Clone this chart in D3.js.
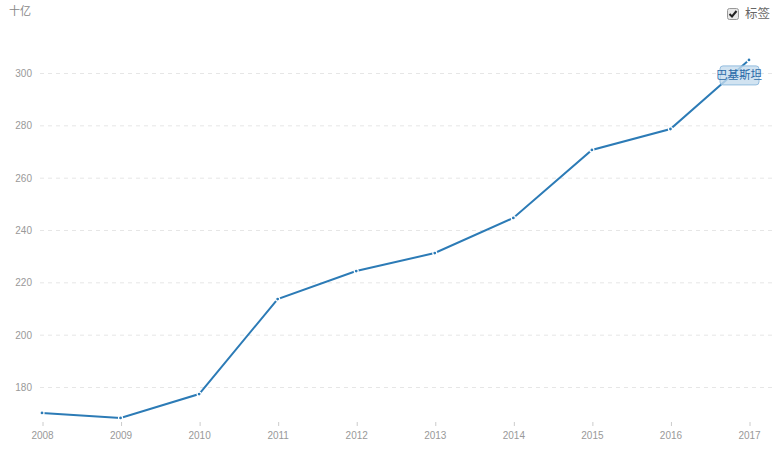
<!DOCTYPE html>
<html>
<head>
<meta charset="utf-8">
<script src="https://cdn.jsdelivr.net/npm/d3@7"></script>
<style>
  body { margin: 0; background: #fff; font-family: "Open Sans", "Noto Sans CJK SC", sans-serif; }
  .tick text { fill: #999; font-size: 10px; }
</style>
</head>
<body>
<svg width="784" height="462"></svg>
<script>
var years = ["2008", "2009", "2010", "2011", "2012", "2013", "2014", "2015", "2016", "2017"];
var values = [170.1, 168.2, 177.3, 213.6, 224.3, 231.2, 244.6, 270.6, 278.6, 305.0];
var yTicks = [180, 200, 220, 240, 260, 280, 300];
var seriesName = "巴基斯坦";
var unitLabel = "十亿";
var toggleLabel = "标签";

var svg = d3.select("svg");

var xScale = d3.scalePoint().domain(years).range([42, 749]);
// 300 -> 73px, 180 -> 387px
var yScale = d3.scaleLinear().domain([180, 300]).range([387, 73]);

// grid lines
svg.append("g")
  .selectAll("line")
  .data(yTicks)
  .enter()
  .append("line")
  .attr("x1", 40)
  .attr("x2", 772)
  .attr("y1", function (d) { return yScale(d) + 0.5; })
  .attr("y2", function (d) { return yScale(d) + 0.5; })
  .attr("stroke", "#e6e6e6")
  .attr("stroke-dasharray", "4,4");

// y axis labels
var yAxis = svg.append("g")
  .attr("transform", "translate(32,0)")
  .call(d3.axisLeft(yScale).tickValues(yTicks).tickSize(0).tickPadding(0));
yAxis.select(".domain").remove();
yAxis.selectAll("text").attr("dy", "0.35em");

// x axis
var xAxis = svg.append("g")
  .attr("transform", "translate(0,422)")
  .call(d3.axisBottom(xScale).tickSize(4).tickPadding(6));
xAxis.select(".domain").remove();
xAxis.selectAll("line").attr("stroke", "#ccc").attr("transform", "translate(0.5,0)");

// unit label
svg.append("text")
  .attr("x", 9)
  .attr("y", 15)
  .attr("fill", "#888")
  .attr("font-size", "11px")
  .text(unitLabel);

// line
var line = d3.line()
  .x(function (d, i) { return xScale(years[i]); })
  .y(function (d) { return yScale(d); });

svg.append("path")
  .datum(values)
  .attr("fill", "none")
  .attr("stroke", "#2c7bb6")
  .attr("stroke-width", 2)
  .attr("d", line);

svg.selectAll(".dot")
  .data(values)
  .enter()
  .append("circle")
  .attr("class", "dot")
  .attr("cx", function (d, i) { return xScale(years[i]); })
  .attr("cy", function (d) { return yScale(d); })
  .attr("r", 2)
  .attr("fill", "#2c7bb6")
  .attr("stroke", "#fff")
  .attr("stroke-width", 1.2);

// series label on last point
var lastX = xScale(years[years.length - 1]);
var lastY = yScale(values[values.length - 1]);
var lab = svg.append("g").attr("transform", "translate(" + (lastX - 10) + "," + (lastY + 15) + ")");
lab.append("rect")
  .attr("x", -19)
  .attr("y", -9)
  .attr("width", 39)
  .attr("height", 19)
  .attr("rx", 3)
  .attr("fill", "rgba(198,220,238,0.8)")
  .attr("stroke", "#94bddf");
lab.append("text")
  .attr("text-anchor", "middle")
  .attr("dy", "0.35em")
  .attr("fill", "#2a6aa8")
  .attr("font-size", "11.5px")
  .text(seriesName);

// checkbox toggle
var cb = svg.append("g").attr("transform", "translate(727,8)");
cb.append("rect")
  .attr("x", 0.5)
  .attr("y", 0.5)
  .attr("width", 11)
  .attr("height", 11)
  .attr("rx", 2)
  .attr("fill", "#e8e8e8")
  .attr("stroke", "#999");
cb.append("path")
  .attr("d", "M2.5,6 L5,8.5 L9.5,3")
  .attr("fill", "none")
  .attr("stroke", "#222")
  .attr("stroke-width", 2);
svg.append("text")
  .attr("x", 745)
  .attr("y", 18)
  .attr("fill", "#666")
  .attr("font-size", "12.5px")
  .text(toggleLabel);
</script>
</body>
</html>
